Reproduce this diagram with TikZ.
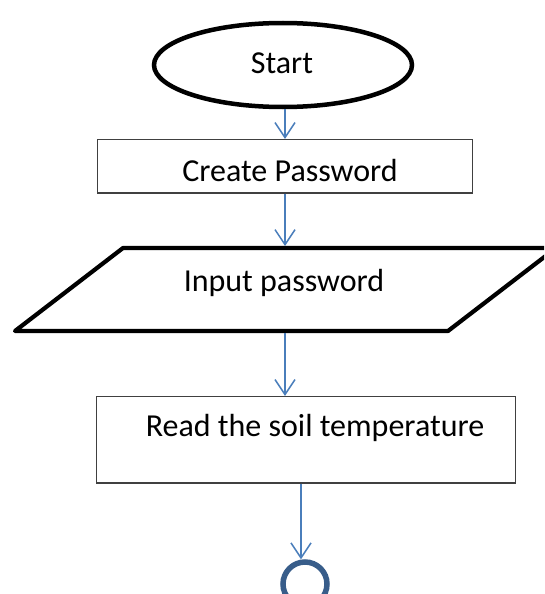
\documentclass[tikz,border=0pt]{standalone}
\usepackage{fontspec}
\setmainfont{Carlito}
\usetikzlibrary{arrows.meta,shapes.geometric}
\definecolor{flowblue}{HTML}{4A7EBB}
\definecolor{termblue}{HTML}{385D8A}
\definecolor{boxgray}{HTML}{404040}
\tikzset{
  terminal/.style={ellipse,draw=black,line width=4.5pt,fill=white,
    minimum width=258pt,minimum height=84pt,inner sep=0pt},
  procbox/.style={rectangle,draw=boxgray,line width=1.2pt,inner sep=0pt},
  lbl/.style={anchor=base,inner sep=0pt,font=\fontsize{32}{38}\selectfont},
  flow/.style={draw=flowblue,line width=1.5pt,
    -{Straight Barb[length=15pt,width=20pt]}},
  ioshape/.style={draw=black,line width=4.2pt,line join=round},
  endmark/.style={circle,draw=termblue,line width=5.5pt,
    minimum size=44pt,inner sep=0pt}
}
\begin{document}
\begin{tikzpicture}[x=1pt,y=-1pt]
  \path[use as bounding box,fill=white] (0,0) rectangle (544,594);
  \clip (0,0) rectangle (544,594);

  % start terminal
  \node[terminal] (start) at (283,65) {};
  \node[lbl] (startlbl) at (282,73.3) {Start};

  % create password
  \node[procbox,minimum width=375pt,minimum height=53.5pt] (create) at (285,166.25) {};
  \node[lbl] (createlbl) at (290,181.7) {Create Password};

  % input parallelogram
  \draw[ioshape] (123,248) -- (556,248) -- (448,331) -- (15,331) -- cycle;
  \coordinate (intop) at (285,246);
  \coordinate (inbot) at (285,333);
  \node[lbl] (inputlbl) at (284,291.7) {Input password};

  % read temperature
  \node[procbox,minimum width=419pt,minimum height=86.5pt] (readtemp) at (306,439.75) {};
  \node[lbl] (readlbl) at (315,436) {Read the soil temperature};

  % connector circle
  \node[endmark] (endc) at (305,584) {};

  % flow lines
  \draw[flow] (start.south -| create.north) -- (create.north);
  \draw[flow] (create.south) -- (intop);
  \draw[flow] (inbot) -- (inbot |- readtemp.north);
  \draw[flow] ([xshift=-4pt]readtemp.south -| endc.north) -- ([xshift=-4pt]endc.north);
\end{tikzpicture}
\end{document}
